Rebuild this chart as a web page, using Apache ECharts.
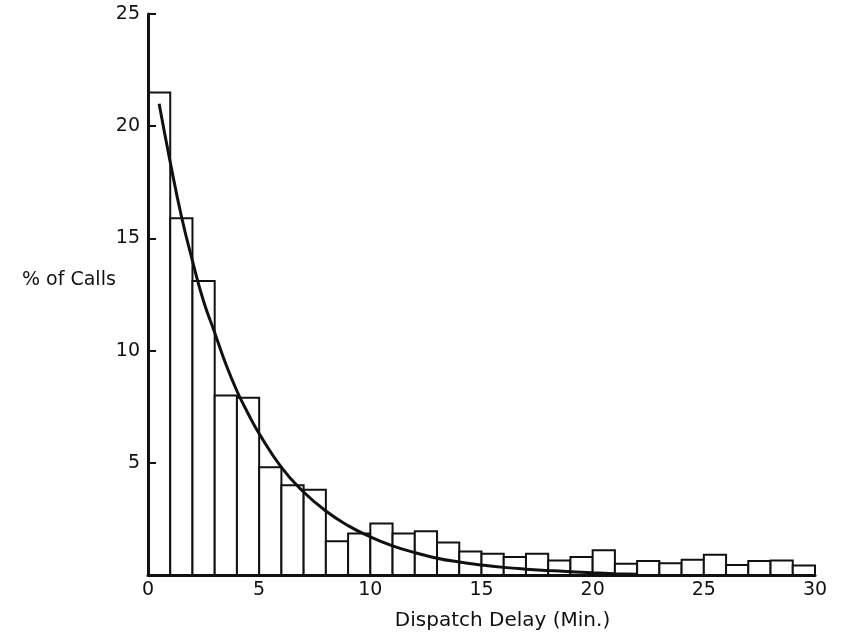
<!DOCTYPE html>
<html>
<head>
<meta charset="utf-8">
<script src="https://cdn.jsdelivr.net/npm/echarts@6/dist/echarts.min.js"></script>
<style>
  html, body { margin: 0; padding: 0; background: #fff; }
  #chart { width: 843px; height: 637px; }
</style>
</head>
<body>
<div id="chart"></div>
<script>
// histogram: % of calls per 1-minute bin, 0..30 min
var binStarts = [0,1,2,3,4,5,6,7,8,9,10,11,12,13,14,15,16,17,18,19,20,21,22,23,24,25,26,27,28,29];
var pctCalls = [21.5,15.9,13.1,8.0,7.9,4.8,4.0,3.8,1.5,1.85,2.3,1.85,1.95,1.45,1.05,0.95,0.8,0.95,0.65,0.8,1.1,0.5,0.62,0.52,0.68,0.9,0.45,0.62,0.65,0.42];

// fitted curve
var curveX = [0.5,1,1.5,2,2.5,3,3.5,4,4.5,5,6,7,8,9,10,11,12,13,14,15,16,17,18,19,20,21,22];
var curveY = [21.0,18.4,16.0,14.0,12.2,10.8,9.4,8.2,7.2,6.3,4.8,3.7,2.85,2.2,1.7,1.3,1.0,0.75,0.58,0.45,0.34,0.26,0.2,0.15,0.1,0.06,0.03];

var xTicks = [0,5,10,15,20,25,30];
var yTicks = [0,5,10,15,20,25];

var FONT = 'DejaVu Sans';

var chart = echarts.init(document.getElementById('chart'), null, { renderer: 'canvas' });

var barData = binStarts.map(function (s, i) { return [s, s + 1, pctCalls[i]]; });
var lineData = curveX.map(function (x, i) { return [x, curveY[i]]; });

var option = {
  backgroundColor: '#fff',
  animation: false,
  grid: { left: 148, right: 28, top: 14, bottom: 62 },
  xAxis: {
    type: 'value',
    min: xTicks[0],
    max: xTicks[xTicks.length - 1],
    interval: 5,
    name: 'Dispatch Delay (Min.)',
    nameLocation: 'middle',
    nameGap: 36,
    nameTextStyle: { color: '#111', fontFamily: FONT, fontSize: 20, padding: [0, 0, 0, 42] },
    axisLine: { show: true, lineStyle: { color: '#111', width: 3 } },
    axisTick: { show: false },
    axisLabel: { color: '#111', fontFamily: FONT, fontSize: 19, margin: 6 },
    splitLine: { show: false },
    z: 10
  },
  yAxis: {
    type: 'value',
    min: yTicks[0],
    max: yTicks[yTicks.length - 1],
    interval: 5,
    axisLine: { show: true, onZero: false, lineStyle: { color: '#111', width: 3 } },
    axisTick: { show: true, inside: true, length: 8, lineStyle: { color: '#111', width: 2 } },
    axisLabel: {
      color: '#111', fontFamily: FONT, fontSize: 19, margin: 8,
      formatter: function (v) { return v === 0 ? '' : String(v); }
    },
    splitLine: { show: false },
    z: 10
  },
  graphic: [{
    type: 'text',
    left: 22,
    top: 271,
    style: { text: '% of Calls', fill: '#111', font: '19px ' + FONT }
  }],
  series: [
    {
      type: 'custom',
      data: barData,
      encode: { x: [0, 1], y: 2 },
      renderItem: function (params, api) {
        var p0 = api.coord([api.value(0), api.value(2)]);
        var p1 = api.coord([api.value(1), 0]);
        return {
          type: 'rect',
          shape: { x: p0[0], y: p0[1], width: p1[0] - p0[0], height: p1[1] - p0[1] },
          style: { fill: '#fff', stroke: '#111', lineWidth: 2 }
        };
      },
      z: 2
    },
    {
      type: 'line',
      data: lineData,
      smooth: true,
      showSymbol: false,
      lineStyle: { color: '#111', width: 3 },
      z: 3
    }
  ]
};

chart.setOption(option);
</script>
</body>
</html>
